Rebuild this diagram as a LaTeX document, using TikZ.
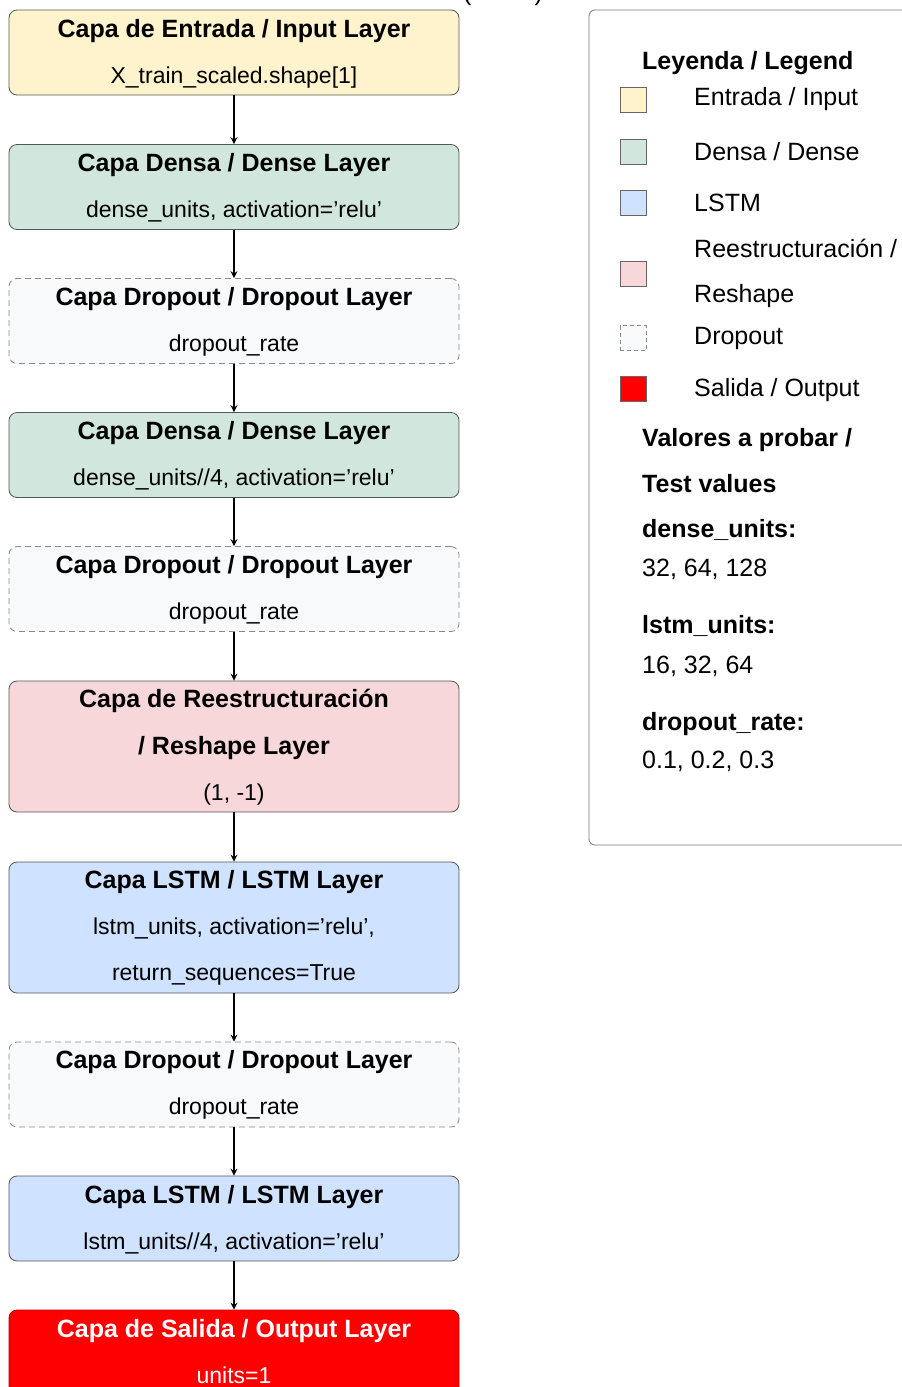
\documentclass[tikz,border=0pt]{standalone}
\usepackage{fontspec}
\setmainfont{Liberation Sans}
\usetikzlibrary{arrows.meta}
\definecolor{cInput}{HTML}{FFF3CD}
\definecolor{cDense}{HTML}{D1E7DD}
\definecolor{cDrop}{HTML}{F8F9FA}
\definecolor{cLSTM}{HTML}{CFE2FF}
\definecolor{cReshape}{HTML}{F8D7DA}
\definecolor{cOut}{HTML}{FF0000}
\definecolor{cBorder}{HTML}{555555}
\definecolor{cDash}{HTML}{888888}
\tikzset{
  layer/.style={draw=cBorder, rounded corners=8pt, minimum width=450pt, line width=0.8pt, inner sep=0pt, minimum height=85pt},
  droplayer/.style={layer, draw=cDash, dashed, dash pattern=on 6pt off 4pt, fill=cDrop},
  ttl/.style={font=\fontsize{25}{30}\selectfont\bfseries, anchor=base, inner sep=0pt},
  subt/.style={font=\fontsize{23}{28}\selectfont, anchor=base, inner sep=0pt},
  arr/.style={-{Stealth[length=7pt,width=7pt,inset=2.5pt]}, line width=1.2pt},
  legbox/.style={draw=cBorder!80, rounded corners=6pt, line width=0.8pt},
  legsq/.style={draw=cBorder!90, line width=0.8pt, minimum width=26pt, minimum height=25pt, inner sep=0pt},
  legtxt/.style={font=\fontsize{25}{30}\selectfont, anchor=base west, inner sep=0pt},
  legbold/.style={font=\fontsize{25}{30}\selectfont\bfseries, anchor=base west, inner sep=0pt},
}
\begin{document}
\begin{tikzpicture}[x=1pt,y=-1pt]
\useasboundingbox (0,0) rectangle (902,1387);
% clipped title fragment
\node[font=\fontsize{25}{30}\selectfont, anchor=base, inner sep=0pt] (cut) at (503,0.5) {(\hspace{63pt})};

% layers
\node[layer, fill=cInput] (b1) at (234,52.5) {};
\node[layer, fill=cDense] (b2) at (234,187) {};
\node[droplayer] (b3) at (234,321) {};
\node[layer, fill=cDense] (b4) at (234,455) {};
\node[droplayer] (b5) at (234,589) {};
\node[layer, fill=cReshape, minimum height=131pt] (b6) at (234,746.5) {};
\node[layer, fill=cLSTM, minimum height=131pt] (b7) at (234,927.5) {};
\node[droplayer] (b8) at (234,1084.5) {};
\node[layer, fill=cLSTM] (b9) at (234,1218.5) {};
\node[layer, fill=cOut, draw=cOut!70!black] (b10) at (234,1352.5) {};

% texts
\node[ttl] (t1) at (234,37) {Capa de Entrada / Input Layer};
\node[subt] (s1) at (234,83) {X\_train\_scaled.shape[1]};
\node[ttl] (t2) at (234,171) {Capa Densa / Dense Layer};
\node[subt] (s2) at (234,217) {dense\_units, activation=’relu’};
\node[ttl] (t3) at (234,305) {Capa Dropout / Dropout Layer};
\node[subt] (s3) at (234,351) {dropout\_rate};
\node[ttl] (t4) at (234,439) {Capa Densa / Dense Layer};
\node[subt] (s4) at (234,485) {dense\_units//4, activation=’relu’};
\node[ttl] (t5) at (234,573) {Capa Dropout / Dropout Layer};
\node[subt] (s5) at (234,619) {dropout\_rate};
\node[ttl] (t6a) at (234,707) {Capa de Reestructuración};
\node[ttl] (t6b) at (234,754) {/ Reshape Layer};
\node[subt] (s6) at (234,800) {(1, -1)};
\node[ttl] (t7) at (234,888) {Capa LSTM / LSTM Layer};
\node[subt] (s7a) at (234,934) {lstm\_units, activation=’relu’,};
\node[subt] (s7b) at (234,980) {return\_sequences=True};
\node[ttl] (t8) at (234,1068) {Capa Dropout / Dropout Layer};
\node[subt] (s8) at (234,1114) {dropout\_rate};
\node[ttl] (t9) at (234,1203) {Capa LSTM / LSTM Layer};
\node[subt] (s9) at (234,1249) {lstm\_units//4, activation=’relu’};
\node[ttl, text=white] (t10) at (234,1337) {Capa de Salida / Output Layer};
\node[subt, text=white] (s10) at (234,1383) {units=1};

% arrows
\draw[arr] (b1.south) -- (b2.north);
\draw[arr] (b2.south) -- (b3.north);
\draw[arr] (b3.south) -- (b4.north);
\draw[arr] (b4.south) -- (b5.north);
\draw[arr] (b5.south) -- (b6.north);
\draw[arr] (b6.south) -- (b7.north);
\draw[arr] (b7.south) -- (b8.north);
\draw[arr] (b8.south) -- (b9.north);
\draw[arr] (b9.south) -- (b10.north);

% legend
\node[legbox, fill=white, minimum width=332pt, minimum height=835pt, inner sep=0pt] (leg) at (755,427.5) {};
\node[legbold] (lt) at (642,69) {Leyenda / Legend};
\node[legsq, fill=cInput] (q1) at (633,99.5) {};
\node[legtxt] (l1) at (694,105) {Entrada / Input};
\node[legsq, fill=cDense] (q2) at (633,151.5) {};
\node[legtxt] (l2) at (694,160) {Densa / Dense};
\node[legsq, fill=cLSTM] (q3) at (633,202.5) {};
\node[legtxt] (l3) at (694,211) {LSTM};
\node[legsq, fill=cReshape] (q4) at (633,273.5) {};
\node[legtxt] (l4a) at (694,257) {Reestructuración /};
\node[legtxt] (l4b) at (694,302) {Reshape};
\node[legsq, fill=cDrop, draw=cDash, dashed, dash pattern=on 4pt off 3pt] (q5) at (633,338) {};
\node[legtxt] (l5) at (694,344) {Dropout};
\node[legsq, fill=cOut] (q6) at (633,388.5) {};
\node[legtxt] (l6) at (694,396) {Salida / Output};
\node[legbold] (v1) at (642,446) {Valores a probar /};
\node[legbold] (v2) at (642,492) {Test values};
\node[legbold] (v3) at (642,537) {dense\_units:};
\node[legtxt] (v4) at (642,576) {32, 64, 128};
\node[legbold] (v5) at (642,633) {lstm\_units:};
\node[legtxt] (v6) at (642,673) {16, 32, 64};
\node[legbold] (v7) at (642,730) {dropout\_rate:};
\node[legtxt] (v8) at (642,768) {0.1, 0.2, 0.3};
\end{tikzpicture}
\end{document}
